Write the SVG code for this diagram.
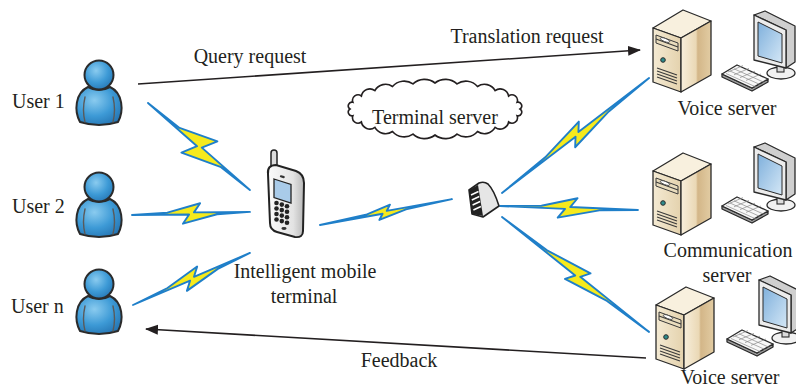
<svg xmlns="http://www.w3.org/2000/svg" xmlns:xlink="http://www.w3.org/1999/xlink" width="796" height="390" viewBox="0 0 796 390">
  <style>
    .lbl { font-family: "Liberation Serif", "Times New Roman", serif; font-size: 20px; fill: #231f20; }
    .mid { text-anchor: middle; }
    .arrow { stroke: #231f20; stroke-width: 1.6; fill: none; }
    .bolt { fill: #f6ea1c; stroke: #1f7fc9; stroke-width: 1.9; stroke-linejoin: round; }
    .ink { stroke: #2a2a2a; stroke-width: 1.3; stroke-linejoin: round; }
    .user-body { fill: url(#userGrad); stroke: #2b2b2b; stroke-width: 2; }
    .crease { fill: none; stroke: #5a5a5a; stroke-width: 1.4; stroke-linecap: round; }
    .vent { stroke: #3a3a3a; stroke-width: 1.1; }
    .key { stroke: #8a8a8a; stroke-width: 0.7; fill: none; }
  </style>
  <defs>
    <marker id="head" markerUnits="userSpaceOnUse" markerWidth="14" markerHeight="12" refX="12" refY="5" orient="auto">
      <path d="M0,0 L13,5 L0,10 Z" fill="#231f20"/>
    </marker>
    <radialGradient id="userGrad" cx="0.4" cy="0.35" r="0.75">
      <stop offset="0" stop-color="#8acbef"/>
      <stop offset="0.55" stop-color="#3d9ad6"/>
      <stop offset="1" stop-color="#2372b0"/>
    </radialGradient>
    <linearGradient id="phoneGrad" x1="0" y1="0" x2="1" y2="0">
      <stop offset="0" stop-color="#fbfbfb"/>
      <stop offset="0.7" stop-color="#e3e3e3"/>
      <stop offset="1" stop-color="#b8b8b8"/>
    </linearGradient>
    <linearGradient id="frontGrad" x1="0" y1="0" x2="1" y2="0">
      <stop offset="0" stop-color="#f4ead3"/>
      <stop offset="1" stop-color="#e4d2ad"/>
    </linearGradient>
    <linearGradient id="sideGrad" x1="0" y1="0" x2="1" y2="0">
      <stop offset="0" stop-color="#f7eedb"/>
      <stop offset="0.5" stop-color="#ead8b5"/>
      <stop offset="0.56" stop-color="#d3b688"/>
      <stop offset="1" stop-color="#e2cca3"/>
    </linearGradient>
    <linearGradient id="screenGrad" x1="0" y1="0" x2="1" y2="1">
      <stop offset="0" stop-color="#7fb0dc"/>
      <stop offset="1" stop-color="#d4e7f6"/>
    </linearGradient>

    <!-- person icon, head centred on the origin -->
    <g id="person">
      <path class="user-body" d="M -19,47 C -25,36 -24,18 -11,12 Q 0,18 11,12 C 24,18 25,36 19,47 Q 0,53 -19,47 Z"/>
      <path class="crease" d="M -14,22 Q -17,35 -14,47 M 14,22 Q 17,35 14,47"/>
      <circle cx="0" cy="0" r="14.5" fill="url(#userGrad)" stroke="#2b2b2b" stroke-width="2"/>
    </g>

    <!-- desktop tower, origin at top-left of its bounding box -->
    <g id="tower">
      <polygon class="ink" points="0,18 30,0 58,11 28,28" fill="#f8f0de"/>
      <polygon class="ink" points="0,18 28,28 28,82 0,72" fill="url(#frontGrad)"/>
      <polygon class="ink" points="28,28 58,11 58,65 28,82" fill="url(#sideGrad)"/>
      <polygon points="3,25 25,33 25,41 3,33" fill="#e9dcbd" stroke="#3a3a3a" stroke-width="1"/>
      <line class="vent" x1="3" y1="29" x2="25" y2="37"/>
      <ellipse cx="12" cy="30" rx="5" ry="1.6" transform="rotate(20 12 30)" fill="#ffffff" stroke="#3a3a3a" stroke-width="0.8"/>
      <circle cx="10" cy="50" r="2.3" fill="#2e8c8c" stroke="#2a2a2a" stroke-width="1"/>
      <line class="vent" x1="4" y1="58" x2="24" y2="65"/>
      <line class="vent" x1="4" y1="61" x2="24" y2="68"/>
      <line class="vent" x1="4" y1="64" x2="24" y2="71"/>
      <line class="vent" x1="4" y1="67" x2="24" y2="74"/>
    </g>

    <!-- monitor and keyboard -->
    <g id="desk">
      <ellipse cx="59" cy="60" rx="14" ry="6" fill="#f1f1f1" stroke="#2a2a2a" stroke-width="1.3"/>
      <rect x="55" y="51" width="7" height="8" fill="#dcdcdc" stroke="#2a2a2a" stroke-width="1.1"/>
      <polygon class="ink" points="32,2 43,-2 73,13 73,49 64,55 64,17" fill="#cfcfcf"/>
      <polygon class="ink" points="32,2 64,17 64,55 32,47" fill="#ececec"/>
      <polygon points="36,9 60,21 60,50 36,43" fill="url(#screenGrad)" stroke="#2a2a2a" stroke-width="1"/>
      <polygon class="ink" points="0,61 30,75 46,66 46,69 30,78 0,64" fill="#9c9c9c"/>
      <polygon class="ink" points="0,61 15,52 46,66 30,75" fill="#f8f8f8"/>
      <path class="key" d="M4,60.5 L34,74 M8,58 L38,71.5 M12,55.8 L42,69.3 M6,59 L21,52.6 M12,61.8 L27,55.4 M18,64.6 L33,58.2 M24,67.4 L39,61"/>
    </g>
  </defs>

  <!-- links: arrows and radio bolts -->
  <g id="connectors">
    <line class="arrow" x1="138" y1="84" x2="640" y2="50" marker-end="url(#head)"/>
    <line class="arrow" x1="646" y1="358" x2="146" y2="329" marker-end="url(#head)"/>

    <g transform="translate(148,103) rotate(40.5)"><polygon class="bolt" points="0,0 40.2,-1.5 77.7,-16 69.9,-1 134,0 96.5,1.5 57.6,16 65.4,1"/></g>
    <g transform="translate(132,215) rotate(-1.5)"><polygon class="bolt" points="0,0 35.4,-1.5 68.4,-10 62,-1 118,0 85,1.5 50.7,10 57.1,1"/></g>
    <g transform="translate(133,305) rotate(-24)"><polygon class="bolt" points="0,0 38.4,-1.5 74.2,-9 67.2,-1 128,0 92.2,1.5 55,9 62,1"/></g>
    <g transform="translate(320,225) rotate(-11.1)"><polygon class="bolt" points="0,0 47,-1.2 72.6,-6.5 68.2,-1 134.5,0 87.4,1.2 59.2,6.5 63.6,1"/></g>
    <g transform="translate(502,193) rotate(-38)"><polygon class="bolt" points="0,0 56,-1.5 104.5,-9 97.75,-1 186.6,0 134.4,1.5 85.8,9 92.55,1"/></g>
    <g transform="translate(500,206) rotate(1.66)"><polygon class="bolt" points="0,0 41.4,-1.5 77.3,-10 70.2,-1 138,0 99.4,1.5 58,10 65.1,1"/></g>
    <g transform="translate(502,217) rotate(38)"><polygon class="bolt" points="0,0 56,-1.5 104.5,-10 98.5,-1 186.6,0 134.4,1.5 87.7,10 93.7,1"/></g>

    <text class="lbl mid" x="250" y="63">Query request</text>
    <text class="lbl mid" x="527" y="43">Translation request</text>
    <text class="lbl mid" x="399" y="367">Feedback</text>
  </g>

  <g id="user-1">
    <use href="#person" xlink:href="#person" x="99" y="75"/>
    <text class="lbl" x="12" y="108">User 1</text>
  </g>
  <g id="user-2">
    <use href="#person" xlink:href="#person" x="99" y="187"/>
    <text class="lbl" x="12" y="213">User 2</text>
  </g>
  <g id="user-n">
    <use href="#person" xlink:href="#person" x="99" y="284"/>
    <text class="lbl" x="11" y="313">User n</text>
  </g>

  <g id="mobile-terminal">
    <rect x="271" y="150" width="6" height="20" rx="3" fill="#dcdcdc" stroke="#222" stroke-width="1.5"/>
    <path d="M 268,174 Q 267,165 276,165 L 296,171 Q 304,174 304,183 L 303,231 Q 303,238 295,237 L 277,232 Q 270,230 270,223 Z" fill="url(#phoneGrad)" stroke="#222" stroke-width="2"/>
    <rect x="280" y="175.5" width="5" height="2.2" rx="1" fill="#333" transform="rotate(17 282 176)"/>
    <polygon points="274,179 291,184.5 291,203 274,197.5" fill="#a9cbe9" stroke="#222" stroke-width="1.3"/>
    <g fill="#222">
      <circle cx="276.5" cy="203" r="2.3"/><circle cx="281.8" cy="204.6" r="2.3"/><circle cx="287" cy="206.2" r="2.3"/>
      <circle cx="276.5" cy="208.5" r="2.3"/><circle cx="281.8" cy="210.1" r="2.3"/><circle cx="287" cy="211.7" r="2.3"/>
      <circle cx="276.5" cy="214" r="2.3"/><circle cx="281.8" cy="215.6" r="2.3"/><circle cx="287" cy="217.2" r="2.3"/>
      <circle cx="276.5" cy="219.5" r="2.3"/><circle cx="281.8" cy="221.1" r="2.3"/><circle cx="287" cy="222.7" r="2.3"/>
    </g>
    <ellipse cx="284" cy="228.5" rx="2.6" ry="1.4" fill="#333"/>
    <text class="lbl mid" x="305" y="278">Intelligent mobile</text>
    <text class="lbl mid" x="304" y="303">terminal</text>
  </g>

  <g id="terminal-server">
    <path d="M 520,109 A 3.7 3.7 0 0 1 517.1,115.7 A 5.5 5.5 0 0 1 508.6,122 A 8.6 8.6 0 0 1 495.1,127.4 A 12.2 12.2 0 0 1 477.5,131.5 A 15.4 15.4 0 0 1 457,134.1 A 17 17 0 0 1 435,135 A 17 17 0 0 1 413,134.1 A 15.4 15.4 0 0 1 392.5,131.5 A 12.2 12.2 0 0 1 374.9,127.4 A 8.6 8.6 0 0 1 361.4,122 A 5.5 5.5 0 0 1 352.9,115.7 A 3.7 3.7 0 0 1 350,109 A 3.7 3.7 0 0 1 352.9,102.3 A 5.5 5.5 0 0 1 361.4,96 A 8.6 8.6 0 0 1 374.9,90.6 A 12.2 12.2 0 0 1 392.5,86.5 A 15.4 15.4 0 0 1 413,83.9 A 17 17 0 0 1 435,83 A 17 17 0 0 1 457,83.9 A 15.4 15.4 0 0 1 477.5,86.5 A 12.2 12.2 0 0 1 495.1,90.6 A 8.6 8.6 0 0 1 508.6,96 A 5.5 5.5 0 0 1 517.1,102.3 A 3.7 3.7 0 0 1 520,109 Z" fill="#ffffff" stroke="#231f20" stroke-width="1.6"/>
    <text class="lbl mid" x="435" y="124">Terminal server</text>
  </g>

  <g id="access-point">
    <path d="M 469,190 L 479,183 Q 484,181 488,184 Q 494,190 499,206 L 483,217 L 472,214 Z" fill="#e6e6e6" stroke="#222" stroke-width="1.6" stroke-linejoin="round"/>
    <path d="M 469,190 L 478,185 L 483,216 L 472,214 Z" fill="#222"/>
    <g stroke="#fff" stroke-width="1.5">
      <line x1="471" y1="195" x2="478.5" y2="191.5"/>
      <line x1="471.8" y1="200" x2="479.3" y2="196.5"/>
      <line x1="472.6" y1="205" x2="480.1" y2="201.5"/>
      <line x1="473.4" y1="210" x2="480.9" y2="206.5"/>
    </g>
  </g>

  <g id="voice-server-1">
    <use href="#tower" xlink:href="#tower" x="653" y="10"/>
    <use href="#desk" xlink:href="#desk" x="722" y="13"/>
    <text class="lbl mid" x="727" y="115">Voice server</text>
  </g>

  <g id="communication-server">
    <use href="#tower" xlink:href="#tower" x="653" y="153"/>
    <use href="#desk" xlink:href="#desk" x="722" y="145"/>
    <text class="lbl mid" x="728" y="257">Communication</text>
    <text class="lbl mid" x="727" y="282">server</text>
  </g>

  <g id="voice-server-2">
    <use href="#tower" xlink:href="#tower" x="656" y="287"/>
    <use href="#desk" xlink:href="#desk" x="727" y="278"/>
    <text class="lbl mid" x="730" y="384">Voice server</text>
  </g>
</svg>
